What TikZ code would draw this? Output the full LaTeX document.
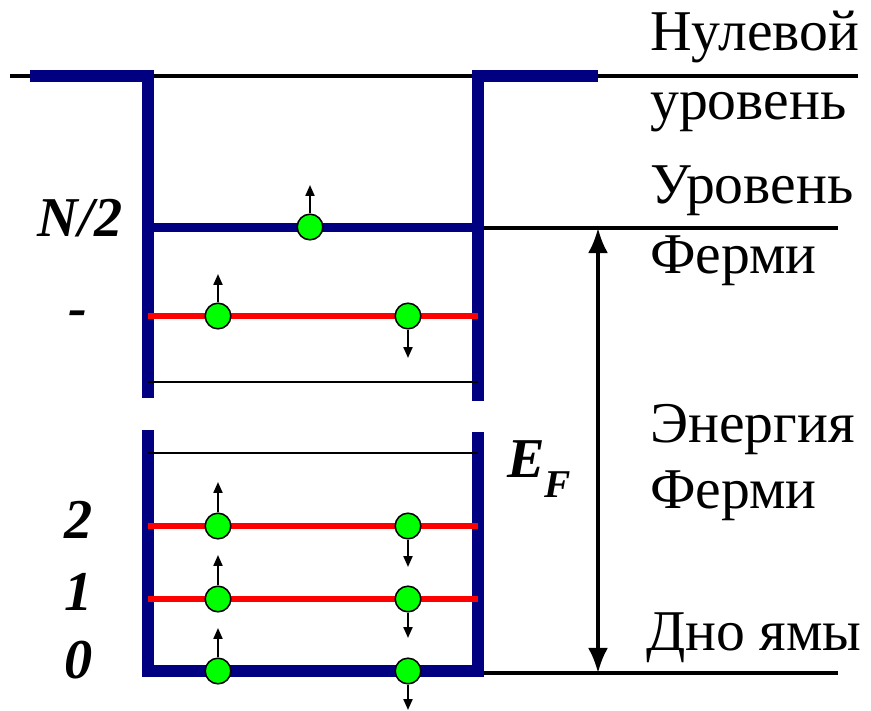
\documentclass[tikz,border=0pt]{standalone}
\usepackage{fontspec}
\setmainfont{Liberation Serif}
\usetikzlibrary{arrows.meta}
\definecolor{wellblue}{RGB}{0,0,128}
\definecolor{elecgreen}{RGB}{0,255,0}

\begin{document}
\begin{tikzpicture}[
            x={(0.025cm,0cm)},
            y={(0cm,-0.025cm)},
            wall/.style={wellblue, line width=8.5pt, line join=miter},
            level/.style={red, line width=4.3pt},
            empty/.style={black, line width=1.4pt},
            ref/.style={black, line width=2.8pt},
            elec/.style={circle, draw=black, fill=elecgreen, line width=1.1pt, minimum size=0.64cm, inner sep=0pt},
            spin/.style={-{Triangle[length=7.8pt, width=6.4pt]}, line width=1.4pt},
            txt/.style={anchor=base west, inner sep=0pt, font=\fontsize{41pt}{48pt}\selectfont},
            num/.style={anchor=base, inner sep=0pt, font=\fontsize{40pt}{48pt}\selectfont\bfseries\itshape}
        ]
        \useasboundingbox (0,0) rectangle (871,711);
        \def\xl{148}
        \def\xr{478}

        \coordinate (Z0) at (10,76);
        \coordinate (Z1) at (858,76);
        \coordinate (FL) at (\xr,228);
        \coordinate (FR) at (838,228);
        \coordinate (BL) at (\xr,673);
        \coordinate (BR) at (838,673);
        \coordinate (EF) at (598,228);
        \coordinate (E0) at (598,673);

        \draw[ref] (Z0) -- (Z1);
        \draw[ref] (FL) -- (FR);
        \draw[ref] (BL) -- (BR);

        \draw[wall] (30,76) -- (\xl,76) -- (\xl,398);
        \draw[wall] (\xr,401) -- (\xr,76) -- (598,76);
        \draw[wall] (\xl,430) -- (\xl,671) -- (\xr,671) -- (\xr,432);
        \draw[wellblue, line width=6.4pt] (\xl,227) -- (\xr,227);
        \draw[level] (\xl,316) -- (\xr,316);
        \draw[level] (\xl,526) -- (\xr,526);
        \draw[level] (\xl,599) -- (\xr,599);
        \draw[empty] (\xl,382) -- (\xr,382);
        \draw[empty] (\xl,453) -- (\xr,453);

        \draw[{Latex[length=17.8pt, width=14.2pt]}-{Latex[length=17.8pt, width=14.2pt]}, line width=2.6pt] (EF) -- (E0);

        \node[elec] (n) at (310,227) {};
        \node[elec] (a3) at (218,316) {};
        \node[elec] (b3) at (408,316) {};
        \node[elec] (a2) at (218,526) {};
        \node[elec] (b2) at (408,526) {};
        \node[elec] (a1) at (218,599) {};
        \node[elec] (b1) at (408,599) {};
        \node[elec] (a0) at (218,671) {};
        \node[elec] (b0) at (408,671) {};

        \coordinate (sn) at (310,185);
        \coordinate (sa3) at (218,274);
        \coordinate (sb3) at (408,358);
        \coordinate (sa2) at (218,482);
        \coordinate (sb2) at (408,567);
        \coordinate (sa1) at (218,555);
        \coordinate (sb1) at (408,638);
        \coordinate (sa0) at (218,628);
        \coordinate (sb0) at (408,710);

        \draw[spin] (n.north) -- (sn);
        \draw[spin] (a3.north) -- (sa3);
        \draw[spin] (b3.south) -- (sb3);
        \draw[spin] (a2.north) -- (sa2);
        \draw[spin] (b2.south) -- (sb2);
        \draw[spin] (a1.north) -- (sa1);
        \draw[spin] (b1.south) -- (sb1);
        \draw[spin] (a0.north) -- (sa0);
        \draw[spin] (b0.south) -- (sb0);

        \node[num] (lN) at (80,236) {N/2};
        \node[num] (lD) at (78,326) {-};
        \node[num] (l2) at (79,538) {2};
        \node[num] (l1) at (79,610) {1};
        \node[num] (l0) at (79,678) {0};
        \node[num, anchor=base west] (lE) at (507,477) {E\raisebox{-0.52cm}{\fontsize{28pt}{30pt}\selectfont F}};

        \node[txt] (t1) at (650,50) {Нулевой};
        \node[txt] (t2) at (650,119) {уровень};
        \node[txt] (t3) at (650,203) {Уровень};
        \node[txt] (t4) at (650,273) {Ферми};
        \node[txt] (t5) at (650,442) {Энергия};
        \node[txt] (t6) at (650,508) {Ферми};
        \node[txt] (t7) at (646,650) {Дно ямы};
    \end{tikzpicture}
\end{document}
